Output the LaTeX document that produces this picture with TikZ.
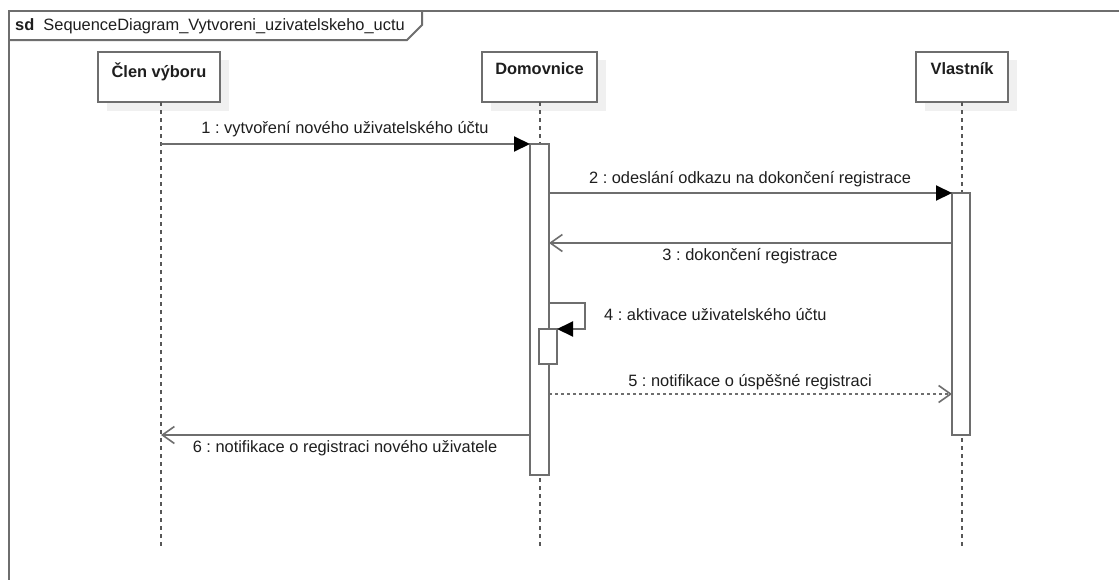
\documentclass[tikz,border=0pt]{standalone}
\usepackage{fontspec}
\setmainfont{Liberation Sans}
\usetikzlibrary{arrows.meta}
\definecolor{linegray}{HTML}{6E6E6E}
\definecolor{shadowgray}{HTML}{F0F0F0}
\definecolor{txt}{HTML}{1E1E1E}
\frenchspacing
\begin{document}
\begin{tikzpicture}[x=1pt,y=-1pt,
  every node/.style={font=\fontsize{16.4}{19}\selectfont, text=txt},
  headbox/.style={draw=linegray, line width=2pt, fill=white, minimum width=#1, minimum height=50pt, inner sep=0pt},
  headtitle/.style={font=\fontsize{16.4}{19}\selectfont\bfseries, text=txt},
  lifeline/.style={draw=linegray!80!black, line width=2pt, dash pattern=on 4pt off 4pt},
  actbox/.style={draw=linegray, line width=2pt, fill=white},
  syncmsg/.style={draw=linegray, line width=2pt, -{Triangle[length=16pt,width=15pt,fill=black,color=black]}},
  replymsg/.style={draw=linegray, line width=2pt, -{Straight Barb[length=12pt,width=17pt,line width=1.6pt]}},
  asyncmsg/.style={replymsg, dash pattern=on 3pt off 3pt},
  msglabel/.style={inner sep=1pt}
]
\useasboundingbox (0,0) rectangle (1119,579);
\fill[white] (0,0) rectangle (1119,579);

% frame (continues beyond the page)
\draw[linegray, line width=2pt] (9,590) -- (9,11) -- (1130,11);
\draw[linegray, line width=2pt] (9,40) -- (407,40) -- (422,25) -- (422,11);
\node[anchor=west, inner sep=0pt] (frametitle) at (15,26) {\textbf{sd}\ \ SequenceDiagram\_Vytvoreni\_uzivatelskeho\_uctu};

% lifeline heads with shadows
\fill[shadowgray] (107,60) rectangle (229,111);
\fill[shadowgray] (491,60) rectangle (606,111);
\fill[shadowgray] (925,60) rectangle (1017,111);
\node[headbox=122pt] (clen) at (159,77) {};
\node[headbox=115pt] (dom) at (539.5,77) {};
\node[headbox=92pt] (vla) at (962,77) {};
\node[headtitle, anchor=north] (clent) at (159,59) {Člen výboru};
\node[headtitle, anchor=north] (domt) at (539.5,59) {Domovnice};
\node[headtitle, anchor=north] (vlat) at (962,59) {Vlastník};

% lifelines
\coordinate (clenend) at (161,546);
\coordinate (domend) at (540,546);
\coordinate (vlaend) at (962,546);
\draw[lifeline] (161,102) -- (clenend);
\draw[lifeline] (540,102) -- (domend);
\draw[lifeline] (962,102) -- (vlaend);

% activations
\draw[actbox] (530,144) rectangle (549,475);
\draw[actbox] (952,193) rectangle (970,435);
\draw[actbox] (539,329) rectangle (557,364);
\coordinate (a1) at (161,144);
\coordinate (b1) at (530,144);
\coordinate (a2) at (549,193);
\coordinate (b2) at (952,193);
\coordinate (a3) at (952,243);
\coordinate (b3) at (549,243);
\coordinate (a4) at (549,303);
\coordinate (b4) at (557,329);
\coordinate (a5) at (549,394);
\coordinate (b5) at (952,394);
\coordinate (a6) at (530,435);
\coordinate (b6) at (161,435);

% messages
\draw[syncmsg] (a1) -- (b1);
\node[msglabel] (m1) at (345,129) {1 : vytvoření nového uživatelského účtu};
\draw[syncmsg] (a2) -- (b2);
\node[msglabel] (m2) at (750,179) {2 : odeslání odkazu na dokončení registrace};
\draw[replymsg] (a3) -- (b3);
\node[msglabel] (m3) at (750,256) {3 : dokončení registrace};
\draw[syncmsg] (a4) -- (585,303) -- (585,329) -- (b4);
\node[msglabel, anchor=west] (m4) at (603,315) {4 : aktivace uživatelského účtu};
\draw[asyncmsg] (a5) -- (b5);
\node[msglabel] (m5) at (750,382) {5 : notifikace o úspěšné registraci};
\draw[replymsg] (a6) -- (b6);
\node[msglabel] (m6) at (345,448) {6 : notifikace o registraci nového uživatele};
\end{tikzpicture}
\end{document}
